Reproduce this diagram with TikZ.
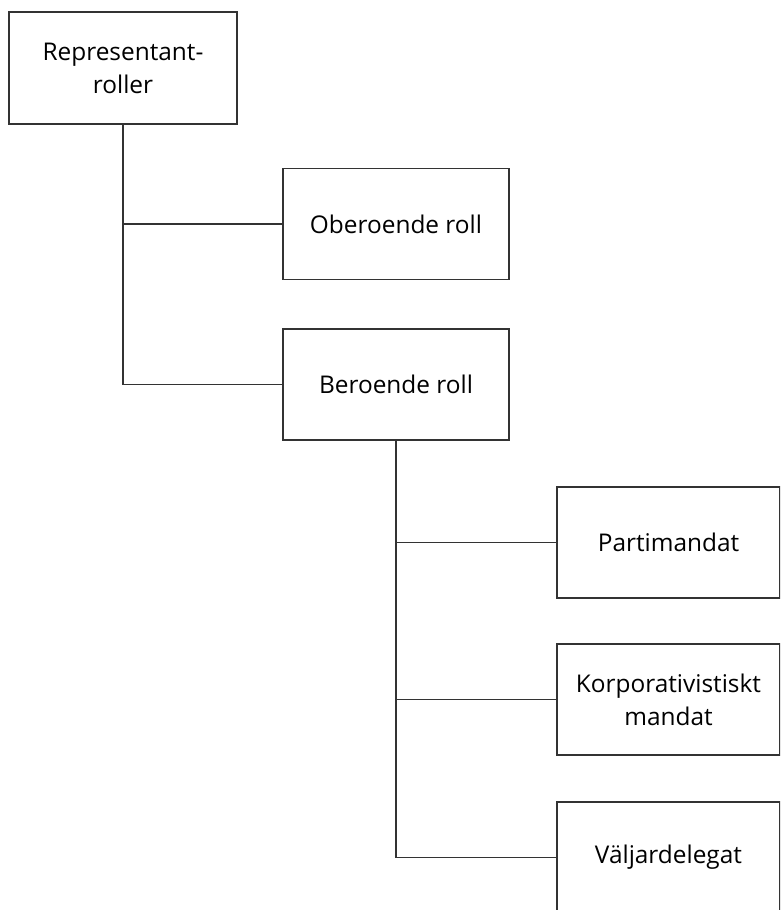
\documentclass[tikz,border=0pt]{standalone}
\usepackage{fontspec}
\setmainfont{Open Sans}
\begin{document}
\begin{tikzpicture}[x=1pt,y=-1pt,
  box/.style={draw=black!80,line width=1.2pt,rectangle,inner sep=0pt,
    minimum width=#1,minimum height=111pt,align=center,
    font=\fontsize{24.4}{33}\selectfont},
  box/.default=226pt,
  conn/.style={draw=black!80,line width=1.2pt}]
\useasboundingbox (0,0) rectangle (780,910);
\clip (0,0) rectangle (780,910);
\fill[white] (0,0) rectangle (780,910);
\node[box=228pt,minimum height=112pt] (rep) at (123,68) {Representant-\\roller};
\node[box] (ober) at (396,224) {Oberoende roll};
\node[box] (ber) at (396,384.5) {Beroende roll};
\node[box=223pt] (parti) at (668.5,542.5) {Partimandat};
\node[box=223pt] (korp) at (668.5,699.5) {Korporativistiskt\\mandat};
\node[box=223pt] (valj) at (668.5,857.5) {Väljardelegat};
\draw[conn] (rep.south) -- (rep.south |- ber.west) -- (ber.west);
\draw[conn] (rep.south |- ober.west) -- (ober.west);
\draw[conn] (ber.south) -- (ber.south |- valj.west) -- (valj.west);
\draw[conn] (ber.south |- parti.west) -- (parti.west);
\draw[conn] (ber.south |- korp.west) -- (korp.west);
\end{tikzpicture}
\end{document}
